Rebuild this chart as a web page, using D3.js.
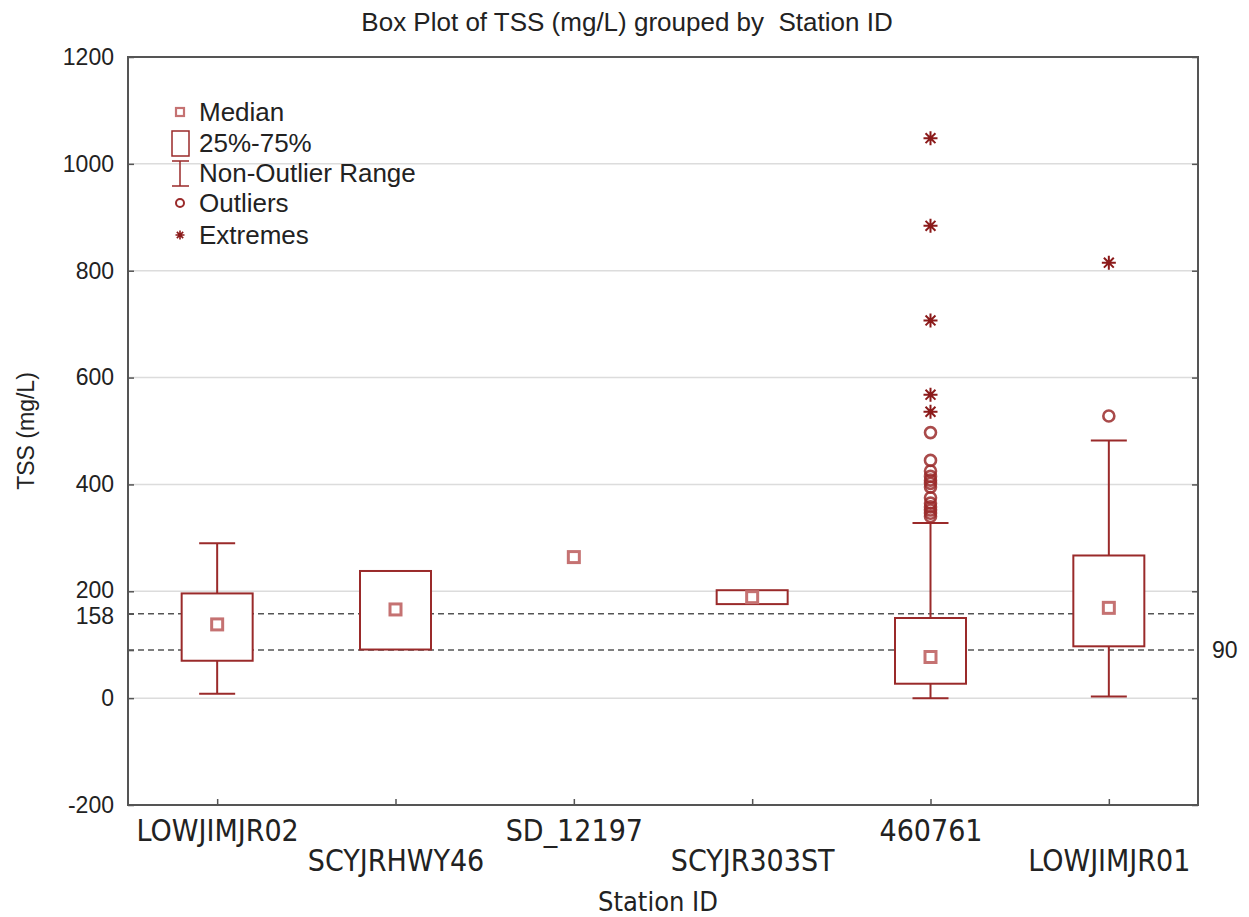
<!DOCTYPE html>
<html>
  <head>
    <meta charset="utf-8" />
    <style>
      body {
        margin: 0;
        background: #fff;
        font-family: "Liberation Sans", Arial, sans-serif;
      }
    </style>
    <script src="https://d3js.org/d3.v7.min.js"></script>
    <title>Box Plot</title>
  </head>

  <body>
    <svg id="chart" width="1249" height="917"></svg>

    <script>
      var stations = ["LOWJIMJR02", "SCYJRHWY46", "SD_12197", "SCYJR303ST", "460761", "LOWJIMJR01"];
      var q1 = [70, 91, 264, 176, 27, 97];
      var medians = [138, 166, 264, 189, 77, 169];
      var q3 = [196, 238, 264, 202, 150, 267];
      var whiskerLow = [8, 91, 264, 176, 0, 3];
      var whiskerHigh = [290, 238, 264, 202, 328, 482];
      var outliers = [[], [], [], [], [497, 445, 425, 415, 408, 402, 395, 375, 365, 358, 352, 346, 340], [528]];
      var extremes = [[], [], [], [], [1048, 884, 707, 568, 536], [815]];
      var yTicks = [-200, 0, 200, 400, 600, 800, 1000, 1200];
      var refLines = [158, 90];
      var legendItems = ["Median", "25%-75%", "Non-Outlier Range", "Outliers", "Extremes"];

      var red = "#9a2a2a";
      var medColor = "#c57272";
      var axisColor = "#555";
      var narrow = "'Liberation Sans Narrow', 'DejaVu Sans Condensed', sans-serif";

      var svg = d3.select("#chart");
      var mLeft = 128, mRight = 1198, mTop = 57, mBottom = 805;

      var y = d3.scaleLinear().domain([-200, 1200]).range([mBottom, mTop]);
      var x = d3.scalePoint().domain(stations).range([mLeft, mRight]).padding(0.5);

      // grid
      svg.append("g")
        .selectAll("line")
        .data(yTicks)
        .enter()
        .append("line")
        .attr("x1", mLeft)
        .attr("x2", mRight)
        .attr("y1", (d) => y(d))
        .attr("y2", (d) => y(d))
        .attr("stroke", "#dcdcdc")
        .attr("stroke-width", 1.5);

      // reference lines
      svg.append("g")
        .selectAll("line")
        .data(refLines)
        .enter()
        .append("line")
        .attr("x1", mLeft)
        .attr("x2", mRight)
        .attr("y1", (d) => y(d))
        .attr("y2", (d) => y(d))
        .attr("stroke", "#555")
        .attr("stroke-width", 1.5)
        .attr("stroke-dasharray", "6,4");

      var boxW = 71, capW = 36;
      var groups = svg.append("g")
        .selectAll("g")
        .data(stations)
        .enter()
        .append("g");

      groups.each(function (s, i) {
        var g = d3.select(this);
        var cx = x(s);
        // whiskers
        if (whiskerHigh[i] > q3[i]) {
          g.append("line").attr("x1", cx).attr("x2", cx)
            .attr("y1", y(q3[i])).attr("y2", y(whiskerHigh[i]))
            .attr("stroke", red).attr("stroke-width", 2);
          g.append("line").attr("x1", cx - capW / 2).attr("x2", cx + capW / 2)
            .attr("y1", y(whiskerHigh[i])).attr("y2", y(whiskerHigh[i]))
            .attr("stroke", red).attr("stroke-width", 2);
        }
        if (whiskerLow[i] < q1[i]) {
          g.append("line").attr("x1", cx).attr("x2", cx)
            .attr("y1", y(q1[i])).attr("y2", y(whiskerLow[i]))
            .attr("stroke", red).attr("stroke-width", 2);
          g.append("line").attr("x1", cx - capW / 2).attr("x2", cx + capW / 2)
            .attr("y1", y(whiskerLow[i])).attr("y2", y(whiskerLow[i]))
            .attr("stroke", red).attr("stroke-width", 2);
        }
        // box
        if (q3[i] > q1[i]) {
          g.append("rect")
            .attr("x", cx - boxW / 2)
            .attr("y", y(q3[i]))
            .attr("width", boxW)
            .attr("height", y(q1[i]) - y(q3[i]))
            .attr("fill", "#fff")
            .attr("stroke", red)
            .attr("stroke-width", 2);
        }
        // median
        g.append("rect")
          .attr("x", cx - 5.5)
          .attr("y", y(medians[i]) - 5.5)
          .attr("width", 11)
          .attr("height", 11)
          .attr("fill", "#fff")
          .attr("stroke", medColor)
          .attr("stroke-width", 3);

        g.selectAll("circle")
          .data(outliers[i])
          .enter()
          .append("circle")
          .attr("cx", cx)
          .attr("cy", (d) => y(d))
          .attr("r", 5.5)
          .attr("fill", "none")
          .attr("stroke", red)
          .attr("stroke-opacity", 0.85)
          .attr("stroke-width", 2.6);

        g.selectAll("path.star")
          .data(extremes[i])
          .enter()
          .append("path")
          .attr("class", "star")
          .attr("transform", (d) => "translate(" + cx + "," + y(d) + ")")
          .attr("d", starPath(7))
          .attr("stroke", "#8b1a1a")
          .attr("stroke-width", 2);
      });

      function starPath(r) {
        var p = "";
        for (var k = 0; k < 4; k++) {
          var a = (k * Math.PI) / 4;
          var dx = r * Math.cos(a), dy = r * Math.sin(a);
          p += "M" + -dx + "," + -dy + "L" + dx + "," + dy;
        }
        return p;
      }

      // frame
      svg.append("rect")
        .attr("x", mLeft)
        .attr("y", mTop)
        .attr("width", mRight - mLeft)
        .attr("height", mBottom - mTop)
        .attr("fill", "none")
        .attr("stroke", axisColor)
        .attr("stroke-width", 2);

      // left axis
      var leftAxis = svg.append("g")
        .attr("transform", "translate(" + mLeft + ",0)")
        .call(
          d3.axisLeft(y)
            .tickValues(yTicks.concat(refLines))
            .tickSizeInner(-6)
            .tickSizeOuter(0)
            .tickPadding(14)
            .tickFormat((d) => (d === 90 ? "" : d))
        );
      leftAxis.select(".domain").remove();
      leftAxis.selectAll("line").attr("stroke", axisColor).attr("stroke-width", 1.5);
      leftAxis.selectAll("text")
        .style("font-family", "'Liberation Sans', Arial, sans-serif")
        .style("font-size", "23px")
        .attr("fill", "#222")
        .attr("dy", (d) => (d === 158 ? "0.42em" : d === 200 ? "0.28em" : "0.32em"));

      // right axis
      var rightAxis = svg.append("g")
        .attr("transform", "translate(" + mRight + ",0)")
        .call(
          d3.axisRight(y)
            .tickValues(yTicks)
            .tickSizeInner(-6)
            .tickSizeOuter(0)
            .tickFormat("")
        );
      rightAxis.select(".domain").remove();
      rightAxis.selectAll("line").attr("stroke", axisColor).attr("stroke-width", 1.5);

      svg.append("text")
        .attr("x", mRight + 14)
        .attr("y", y(refLines[1]))
        .attr("dy", "0.35em")
        .style("font-size", "23px")
        .attr("fill", "#222")
        .text(refLines[1]);

      // bottom axis
      var bottomAxis = svg.append("g")
        .attr("transform", "translate(0," + mBottom + ")")
        .call(d3.axisBottom(x).tickSizeInner(-6).tickSizeOuter(0).tickPadding(14));
      bottomAxis.select(".domain").remove();
      bottomAxis.selectAll("line").attr("stroke", axisColor).attr("stroke-width", 1.5);
      bottomAxis.selectAll("text")
        .style("font-family", narrow)
        .style("font-size", "30px")
        .attr("fill", "#222")
        .attr("dy", (d, i) => (i % 2 === 0 ? "0.72em" : "1.72em"));

      // titles
      svg.append("text")
        .attr("x", 627)
        .attr("y", 31)
        .attr("text-anchor", "middle")
        .style("font-size", "26px")
        .style("white-space", "pre")
        .attr("fill", "#222")
        .text("Box Plot of TSS (mg/L) grouped by  Station ID");

      svg.append("text")
        .attr("x", 658)
        .attr("y", 911)
        .attr("text-anchor", "middle")
        .style("font-family", narrow)
        .style("font-size", "27px")
        .attr("fill", "#222")
        .text("Station ID");

      svg.append("text")
        .attr("transform", "translate(34," + (mTop + mBottom) / 2 + ") rotate(-90)")
        .attr("text-anchor", "middle")
        .style("font-size", "23px")
        .attr("fill", "#222")
        .text("TSS (mg/L)");

      // legend
      var legend = svg.append("g").attr("transform", "translate(180,0)");
      var legendY = [112, 143, 173, 203, 235];
      legend.append("rect").attr("x", -4).attr("y", legendY[0] - 4).attr("width", 8).attr("height", 8)
        .attr("fill", "#fff").attr("stroke", medColor).attr("stroke-width", 2.2);
      legend.append("rect").attr("x", -8).attr("y", legendY[1] - 12).attr("width", 17).attr("height", 25)
        .attr("fill", "#fff").attr("stroke", red).attr("stroke-width", 1.5);
      legend.append("path")
        .attr("d", "M-8," + (legendY[2] - 12) + "H9M0," + (legendY[2] - 12) + "V" + (legendY[2] + 13) + "M-8," + (legendY[2] + 13) + "H9")
        .attr("fill", "none").attr("stroke", red).attr("stroke-width", 1.5);
      legend.append("circle").attr("cx", 0).attr("cy", legendY[3]).attr("r", 4)
        .attr("fill", "none").attr("stroke", red).attr("stroke-width", 2);
      legend.append("path").attr("transform", "translate(0," + legendY[4] + ")").attr("d", starPath(4.5))
        .attr("stroke", "#8b1a1a").attr("stroke-width", 1.6);
      legend.selectAll("text")
        .data(legendItems)
        .enter()
        .append("text")
        .attr("x", 19)
        .attr("y", (d, i) => legendY[i])
        .attr("dy", "0.35em")
        .style("font-size", "26px")
        .attr("fill", "#222")
        .text((d) => d);
    </script>
  </body>
</html>
